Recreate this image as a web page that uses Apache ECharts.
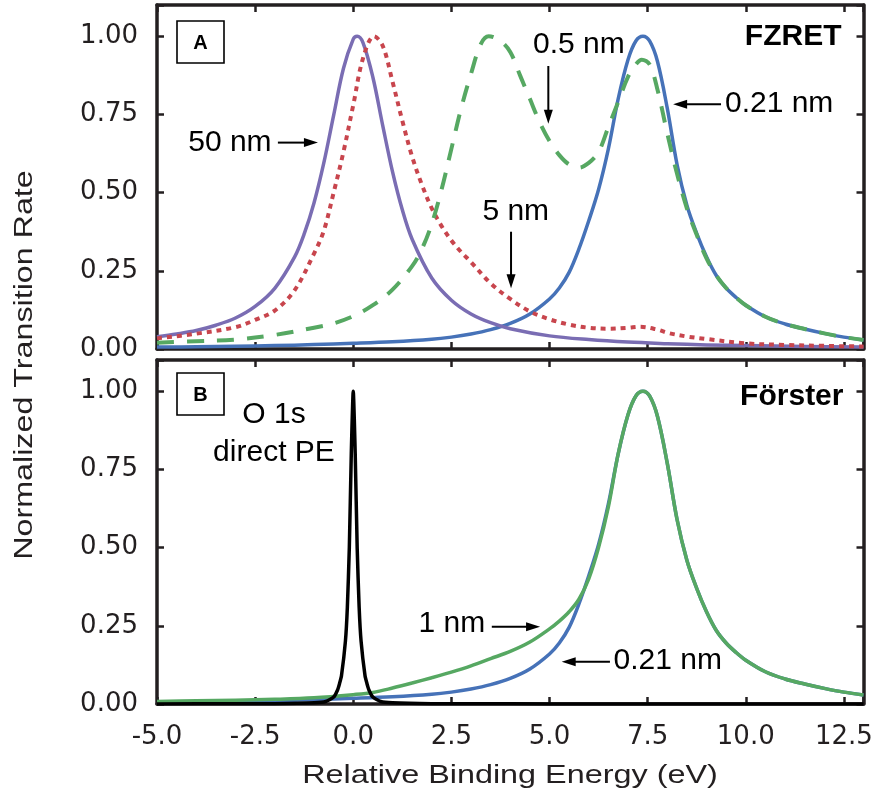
<!DOCTYPE html>
<html>
<head>
<meta charset="utf-8">
<script src="https://cdn.jsdelivr.net/npm/echarts@6/dist/echarts.min.js"></script>
<style>
html,body{margin:0;padding:0;background:#fff;}
#chart{width:881px;height:798px;}
</style>
</head>
<body>
<div id="chart"></div>
<script>
// ---------- data (relative binding energy in eV, normalized transition rate) ----------
// Panel A (FZRET)
const energy021 = [-5, -4, -3, -2, -1, 0, 1, 2, 2.5, 3, 3.5, 4, 4.5, 5, 5.25, 5.5, 5.75, 6, 6.25, 6.5, 6.75, 7, 7.2, 7.38, 7.55, 7.75, 8, 8.25, 8.5, 8.75, 9, 9.25, 9.5, 9.75, 10, 10.5, 11, 11.5, 12, 12.5, 13];
const rate021   = [0.006, 0.007, 0.009, 0.011, 0.014, 0.018, 0.023, 0.031, 0.038, 0.048, 0.062, 0.082, 0.112, 0.16, 0.195, 0.245, 0.32, 0.41, 0.51, 0.64, 0.80, 0.925, 0.985, 1.0, 0.985, 0.92, 0.77, 0.59, 0.46, 0.37, 0.295, 0.235, 0.195, 0.165, 0.14, 0.103, 0.08, 0.064, 0.05, 0.038, 0.029];

const energy50 = [-5, -4.5, -4, -3.5, -3, -2.5, -2, -1.5, -1.25, -1, -0.75, -0.5, -0.25, 0, 0.1, 0.25, 0.5, 0.75, 1, 1.25, 1.5, 2, 2.5, 3, 3.5, 4, 5, 6, 7, 8, 9, 10, 11.5, 13];
const rate50   = [0.039, 0.048, 0.059, 0.076, 0.099, 0.136, 0.194, 0.293, 0.368, 0.467, 0.595, 0.747, 0.897, 0.991, 1.0, 0.979, 0.869, 0.715, 0.567, 0.445, 0.351, 0.227, 0.156, 0.112, 0.084, 0.065, 0.042, 0.030, 0.022, 0.017, 0.013, 0.011, 0.008, 0.006];

const energy5 = [-5, -4, -3, -2.5, -2, -1.5, -1, -0.75, -0.5, -0.25, 0, 0.25, 0.53, 0.75, 1, 1.25, 1.5, 1.75, 2, 2.25, 2.5, 2.75, 3, 3.5, 4, 4.5, 5, 5.5, 6, 6.5, 7, 7.3, 7.75, 8, 8.5, 9, 10, 11, 12, 13];
const rate5   = [0.034, 0.049, 0.07, 0.093, 0.123, 0.187, 0.305, 0.378, 0.50, 0.63, 0.78, 0.93, 1.0, 0.97, 0.855, 0.73, 0.615, 0.525, 0.45, 0.393, 0.347, 0.31, 0.278, 0.21, 0.16, 0.12, 0.095, 0.078, 0.068, 0.065, 0.068, 0.071, 0.062, 0.052, 0.040, 0.032, 0.018, 0.013, 0.010, 0.008];

const energy05 = [-5, -4, -3, -2, -1, -0.5, 0, 0.5, 1, 1.5, 1.75, 2, 2.25, 2.5, 2.75, 3, 3.25, 3.45, 3.75, 4, 4.25, 4.5, 4.75, 5, 5.25, 5.5, 5.75, 6, 6.25, 6.5, 6.75, 7, 7.2, 7.35, 7.55, 7.75, 8, 8.25, 8.5, 8.75, 9, 9.25, 9.5, 9.75, 10, 10.5, 11, 11.5, 12, 12.5, 13];
const rate05   = [0.02, 0.025, 0.03, 0.045, 0.068, 0.082, 0.105, 0.14, 0.19, 0.265, 0.32, 0.40, 0.51, 0.64, 0.77, 0.88, 0.975, 1.0, 0.985, 0.95, 0.875, 0.80, 0.725, 0.665, 0.62, 0.59, 0.58, 0.595, 0.63, 0.71, 0.79, 0.87, 0.91, 0.925, 0.91, 0.83, 0.69, 0.56, 0.45, 0.365, 0.29, 0.235, 0.195, 0.165, 0.14, 0.103, 0.08, 0.064, 0.05, 0.038, 0.029];

// Panel B (Förster)
const energy1 = [-5, -4, -3, -2, -1, 0, 0.5, 1, 1.5, 2, 2.5, 3, 3.5, 4, 4.5, 5, 5.25, 5.5, 5.75, 6, 6.25, 6.5, 6.75, 7, 7.2, 7.38, 7.55, 7.75, 8, 8.25, 8.5, 8.75, 9, 9.25, 9.5, 9.75, 10, 10.5, 11, 11.5, 12, 12.5, 13];
const rate1   = [0.008, 0.01, 0.012, 0.015, 0.02, 0.03, 0.037, 0.051, 0.067, 0.084, 0.102, 0.122, 0.145, 0.168, 0.198, 0.24, 0.265, 0.295, 0.335, 0.40, 0.50, 0.63, 0.80, 0.925, 0.985, 1.0, 0.985, 0.92, 0.77, 0.59, 0.46, 0.37, 0.295, 0.235, 0.195, 0.165, 0.14, 0.103, 0.08, 0.064, 0.05, 0.038, 0.029];

const energyO1s = [-5, -3, -2, -1, -0.7, -0.5, -0.4, -0.35, -0.3, -0.2, -0.15, -0.1, -0.05, 0, 0.05, 0.1, 0.15, 0.2, 0.3, 0.35, 0.4, 0.5, 0.7, 1, 2, 3, 5, 13];
const rateO1s   = [0.0003, 0.0006, 0.001, 0.004, 0.008, 0.022, 0.045, 0.065, 0.09, 0.2, 0.31, 0.5, 0.8, 1.0, 0.8, 0.5, 0.31, 0.2, 0.09, 0.065, 0.045, 0.022, 0.008, 0.004, 0.001, 0.0006, 0.0003, 0.0001];

// axis ticks
const xTickStep = 2.5;
const yTickStep = 0.25;

// ---------- chart ----------
const pairs = (xs, ys) => xs.map((x, i) => [x, ys[i]]);
const AX = '#231f20';
const TICK_FONT = 'DejaVu Sans';
const ANN_FONT = 'Liberation Sans';
const isStep = (v, s) => Math.abs(v / s - Math.round(v / s)) < 1e-6;

function xAxisCfg(grid, pos, showLabel) {
  return {
    type: 'value', gridIndex: grid, position: pos, min: -5, max: 13, interval: xTickStep,
    axisLine: { show: true, onZero: false, lineStyle: { color: AX, width: 3.5 } },
    axisTick: { show: true, inside: true, length: 7, lineStyle: { color: AX, width: 2.5 } },
    axisLabel: { show: showLabel, margin: 20, color: AX, fontFamily: TICK_FONT, fontSize: 26,
      formatter: v => isStep(v, xTickStep) ? v.toFixed(1) : '' },
    splitLine: { show: false }
  };
}
function yAxisCfg(grid, pos, showLabel) {
  return {
    type: 'value', gridIndex: grid, position: pos, min: 0, max: 1.1, interval: yTickStep,
    axisLine: { show: true, onZero: false, lineStyle: { color: AX, width: 3.5 } },
    axisTick: { show: true, inside: true, length: 7, lineStyle: { color: AX, width: 2.5 } },
    axisLabel: { show: showLabel, margin: 19, color: AX, fontFamily: TICK_FONT, fontSize: 26,
      formatter: v => isStep(v, yTickStep) ? v.toFixed(2) : '' },
    splitLine: { show: false }
  };
}
function line(name, xi, data, color, width, type, smooth) {
  return {
    name, type: 'line', xAxisIndex: xi, yAxisIndex: xi, data,
    showSymbol: false, symbol: 'none', smooth: smooth,
    lineStyle: { color, width, type, cap: 'butt', join: 'round' },
    silent: true
  };
}

const COL_PURPLE = '#7a6db3';
const COL_RED = '#c8454d';
const COL_GREEN = '#56a862';
const COL_BLUE = '#4672b8';

const chart = echarts.init(document.getElementById('chart'), null, { renderer: 'canvas' });
chart.setOption({
  animation: false,
  backgroundColor: '#fff',
  grid: [
    { left: 157, top: 5, width: 706.5, height: 344 },
    { left: 157, top: 360, width: 706.5, height: 344 }
  ],
  xAxis: [xAxisCfg(0, 'bottom', false), xAxisCfg(0, 'top', false), xAxisCfg(1, 'bottom', true), xAxisCfg(1, 'top', false)],
  yAxis: [yAxisCfg(0, 'left', true), yAxisCfg(0, 'right', false), yAxisCfg(1, 'left', true), yAxisCfg(1, 'right', false)],
  series: [
    line('0.21 nm (FZRET)', 0, pairs(energy021, rate021), COL_BLUE, 3.5, 'solid', 0.35),
    line('50 nm', 0, pairs(energy50, rate50), COL_PURPLE, 3.5, 'solid', 0.35),
    line('5 nm', 0, pairs(energy5, rate5), COL_RED, 4, [5, 5], 0.35),
    line('0.5 nm', 0, pairs(energy05, rate05), COL_GREEN, 4, [17, 13], 0.35),
    line('0.21 nm (Förster)', 2, pairs(energy021, rate021), COL_BLUE, 3.5, 'solid', 0.35),
    line('1 nm', 2, pairs(energy1, rate1), COL_GREEN, 3.5, 'solid', 0.35),
    line('O 1s direct PE', 2, pairs(energyO1s, rateO1s), '#000', 3.5, 'solid', 0.2)
  ]
});

// ---------- annotations (placed in data coordinates) ----------
const annTop = [
  { text: '50 nm', x: -2.08, y: 0.66, align: 'right' },
  { text: '0.5 nm', x: 5.75, y: 0.974, align: 'center' },
  { text: '0.21 nm', x: 9.47, y: 0.783, align: 'left' },
  { text: '5 nm', x: 4.14, y: 0.439, align: 'center' },
  { text: 'FZRET', x: 12.44, y: 1.0, align: 'right', bold: true }
];
const arrowsTop = [
  [[-1.92, 0.66], [-0.90, 0.66]],
  [[4.97, 0.905], [4.97, 0.72]],
  [[9.37, 0.783], [8.15, 0.783]],
  [[4.02, 0.375], [4.02, 0.194]]
];
const annBottom = [
  { text: 'O 1s', x: -2.02, y: 0.924, align: 'center' },
  { text: 'direct PE', x: -2.02, y: 0.804, align: 'center' },
  { text: 'Förster', x: 12.49, y: 0.983, align: 'right', bold: true },
  { text: '1 nm', x: 3.36, y: 0.256, align: 'right' },
  { text: '0.21 nm', x: 6.63, y: 0.137, align: 'left' }
];
const arrowsBottom = [
  [[3.53, 0.247], [4.76, 0.247]],
  [[6.54, 0.135], [5.31, 0.135]]
];

const toPx = (seriesIndex, p) => chart.convertToPixel({ seriesIndex }, p);
const els = [];
function addText(si, a) {
  const p = toPx(si, [a.x, a.y]);
  els.push({
    type: 'text', x: p[0], y: p[1], z: 100,
    style: {
      text: a.text, fontSize: 30, fontFamily: ANN_FONT, fontWeight: a.bold ? 'bold' : 'normal',
      fill: '#000', align: a.align, verticalAlign: 'middle', textAlign: a.align, textVerticalAlign: 'middle'
    }
  });
}
function addArrow(si, pr) {
  const p1 = toPx(si, pr[0]), p2 = toPx(si, pr[1]);
  const dx = p2[0] - p1[0], dy = p2[1] - p1[1];
  const len = Math.hypot(dx, dy), ux = dx / len, uy = dy / len;
  const L = 14, W = 9;
  const bx = p2[0] - ux * L, by = p2[1] - uy * L;
  els.push({ type: 'line', z: 100, shape: { x1: p1[0], y1: p1[1], x2: bx + ux * 3, y2: by + uy * 3 },
    style: { stroke: '#000', lineWidth: 2 } });
  els.push({ type: 'polygon', z: 100, shape: { points: [[p2[0], p2[1]], [bx - uy * W / 2, by + ux * W / 2], [bx + uy * W / 2, by - ux * W / 2]] },
    style: { fill: '#000' } });
}
annTop.forEach(a => addText(0, a));
arrowsTop.forEach(a => addArrow(0, a));
annBottom.forEach(a => addText(4, a));
arrowsBottom.forEach(a => addArrow(4, a));

// panel letters
[['A', 21], ['B', 373]].forEach(([t, top]) => {
  els.push({ type: 'rect', z: 100, shape: { x: 177, y: top, width: 47, height: 42 },
    style: { fill: '#fff', stroke: '#000', lineWidth: 1.6 } });
  els.push({ type: 'text', z: 101, x: 200.5, y: top + 22, style: { text: t, fontSize: 20, fontWeight: 'bold',
    fontFamily: ANN_FONT, fill: '#000', align: 'center', verticalAlign: 'middle', textAlign: 'center', textVerticalAlign: 'middle' } });
});

// axis titles (horizontally stretched like the original artwork)
els.push({ type: 'text', z: 100, x: 510, y: 776, scaleX: 1.245,
  style: { text: 'Relative Binding Energy (eV)', fontSize: 26, fontFamily: ANN_FONT, fill: AX,
    align: 'center', verticalAlign: 'middle', textAlign: 'center', textVerticalAlign: 'middle' } });
els.push({ type: 'text', z: 100, x: 24.5, y: 365, rotation: Math.PI / 2, scaleX: 1.24,
  style: { text: 'Normalized Transition Rate', fontSize: 26, fontFamily: ANN_FONT, fill: AX,
    align: 'center', verticalAlign: 'middle', textAlign: 'center', textVerticalAlign: 'middle' } });

chart.setOption({ graphic: { elements: els } });
</script>
</body>
</html>
